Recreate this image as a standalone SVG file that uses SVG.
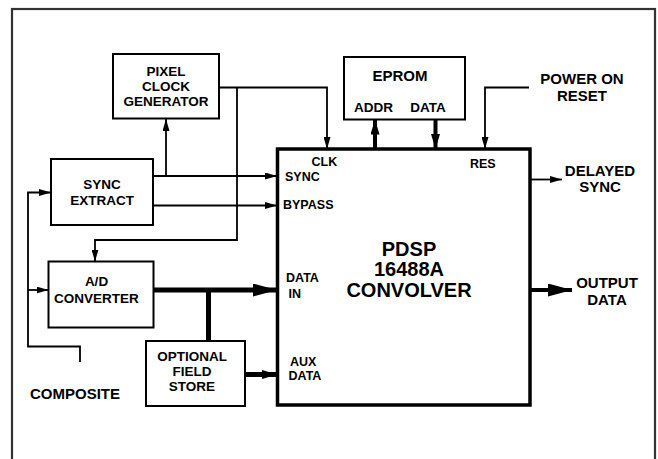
<svg xmlns="http://www.w3.org/2000/svg" width="658" height="459" viewBox="0 0 658 459">
<defs>
<style>
.box{fill:#fff;stroke:#000;stroke-width:2}
.big{fill:#fff;stroke:#000;stroke-width:3.5}
.w{fill:none;stroke:#000;stroke-width:1.8}
.bus{fill:none;stroke:#000;stroke-width:5}
.med{fill:none;stroke:#000;stroke-width:4}
text{font-family:"Liberation Sans",Arial,Helvetica,sans-serif;font-weight:bold;fill:#000;text-anchor:middle;dominant-baseline:central}
.s{font-size:13.5px}
.p{font-size:12.5px;text-anchor:start}
.l{font-size:15px}
.t{font-size:20px}
</style>
<marker id="a" markerUnits="userSpaceOnUse" markerWidth="12" markerHeight="7" refX="12" refY="3.5" orient="auto"><path d="M0,0 L12,3.5 L0,7 z"/></marker>
<marker id="m" markerUnits="userSpaceOnUse" markerWidth="15" markerHeight="9" refX="15" refY="4.5" orient="auto"><path d="M0,0 L15,4.5 L0,9 z"/></marker>
<marker id="b" markerUnits="userSpaceOnUse" markerWidth="24" markerHeight="13" refX="24" refY="6.5" orient="auto"><path d="M0,0 L24,6.5 L0,13 z"/></marker>
</defs>
<rect x="12" y="9" width="643" height="470" fill="none" stroke="#333" stroke-width="2.2"/>
<g id="connectors">
<path class="w" d="M166,176 V119" marker-end="url(#a)"/>
<path class="w" d="M153,176 H277" marker-end="url(#a)"/>
<path class="w" d="M153,205.5 H277" marker-end="url(#a)"/>
<path class="w" d="M219,87.5 H327 V149" marker-end="url(#a)"/>
<path class="w" d="M237,87.5 V240 H95 V261.5" marker-end="url(#a)"/>
<path class="w" d="M80,362 V346.5 H28 V192.5 H51" marker-end="url(#a)"/>
<path class="w" d="M28,290 H48.5" marker-end="url(#a)"/>
<path class="w" d="M529,87.5 H485 V149" marker-end="url(#a)"/>
<path class="w" d="M530,179.5 H562" marker-end="url(#a)"/>
<path class="bus" d="M153,290 H277" marker-end="url(#b)"/>
<path class="bus" d="M208.5,290 V341"/>
<path class="bus" d="M245,374.5 H277" marker-end="url(#m)"/>
<path class="med" d="M530,290 H572" marker-end="url(#b)"/>
<path class="med" d="M375,149 V119.5" marker-end="url(#m)"/>
<path class="med" d="M435.5,119.5 V149" marker-end="url(#m)"/>
</g>
<g id="pixel-clock">
<rect class="box" x="113" y="54" width="106" height="64.5"/>
<text class="s" x="166" y="71">PIXEL</text>
<text class="s" x="166" y="86">CLOCK</text>
<text class="s" x="166" y="101.5">GENERATOR</text>
</g>
<g id="sync-extract">
<rect class="box" x="51" y="159" width="102" height="66"/>
<text class="s" x="102" y="184">SYNC</text>
<text class="s" x="102" y="200">EXTRACT</text>
</g>
<g id="eprom">
<rect class="box" x="344" y="57" width="121" height="62.5"/>
<text class="l" x="400" y="75">EPROM</text>
<text class="s" x="373.5" y="107">ADDR</text>
<text class="s" x="428" y="107">DATA</text>
</g>
<g id="ad-converter">
<rect class="box" x="48.5" y="261.5" width="105" height="66"/>
<text class="s" x="96.5" y="281.5">A/D</text>
<text class="s" x="96.5" y="298">CONVERTER</text>
</g>
<g id="field-store">
<rect class="box" x="146" y="341" width="99" height="65"/>
<text class="s" x="192" y="356">OPTIONAL</text>
<text class="s" x="192" y="371.5">FIELD</text>
<text class="s" x="192" y="386.5">STORE</text>
</g>
<g id="convolver">
<rect class="big" x="277.5" y="149" width="252.5" height="256"/>
<text class="p" x="311.5" y="162">CLK</text>
<text class="p" x="285" y="177">SYNC</text>
<text class="p" x="283" y="204.5">BYPASS</text>
<text class="p" x="470" y="164">RES</text>
<text class="p" x="286" y="277.5">DATA</text>
<text class="p" x="288.5" y="293.5">IN</text>
<text class="p" x="290" y="361.5">AUX</text>
<text class="p" x="288.5" y="376">DATA</text>
<text class="t" x="409" y="248.5">PDSP</text>
<text class="t" x="409" y="269">16488A</text>
<text class="t" x="409" y="289.5">CONVOLVER</text>
</g>
<g id="labels">
<text class="l" x="582" y="78">POWER ON</text>
<text class="l" x="582" y="95.5">RESET</text>
<text class="l" x="600" y="170">DELAYED</text>
<text class="l" x="600" y="186">SYNC</text>
<text class="l" x="607" y="282.5">OUTPUT</text>
<text class="l" x="607" y="299">DATA</text>
<text class="l" x="75" y="393.5">COMPOSITE</text>
</g>
</svg>
